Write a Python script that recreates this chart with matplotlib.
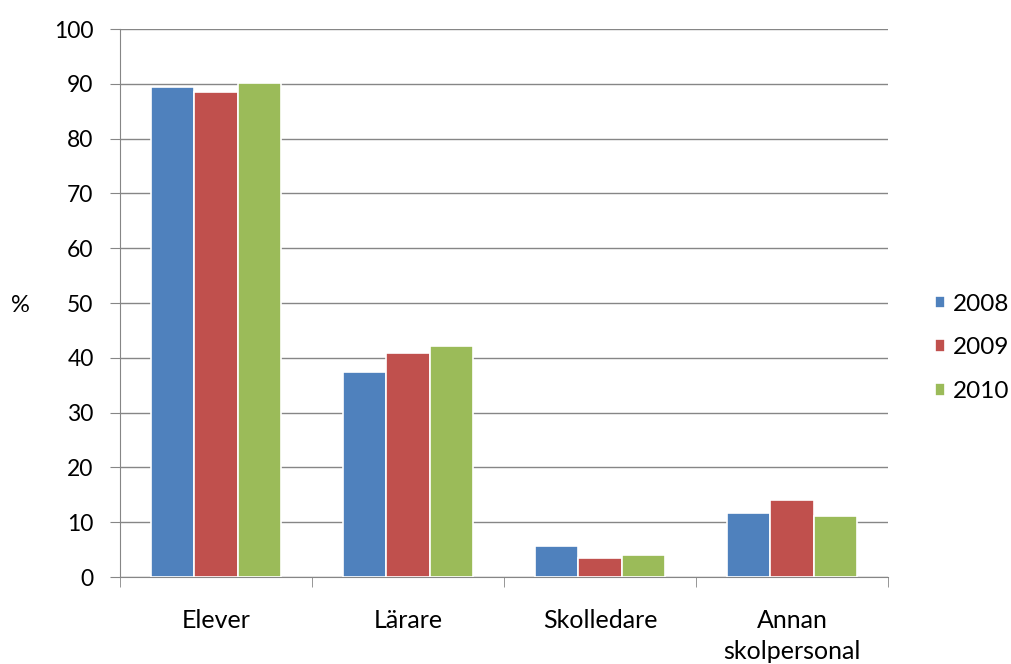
import matplotlib.pyplot as plt
import numpy as np

# data
categories = ['Elever', 'Lärare', 'Skolledare', 'Annan\nskolpersonal']
years = ['2008', '2009', '2010']
v2008 = [89.4, 37.4, 5.7, 11.7]
v2009 = [88.5, 40.9, 3.5, 14.1]
v2010 = [90.1, 42.2, 4.0, 11.1]
colors = ['#4F81BD', '#C0504D', '#9BBB59']

plt.rcParams['font.family'] = ['Lato', 'DejaVu Sans']

fig = plt.figure(figsize=(10.11, 6.64), dpi=100)
ax = fig.add_axes([120/1011, 87/664, 768/1011, 548/664])

x = np.arange(len(categories))
w = 0.225
for i, (vals, yr) in enumerate(zip([v2008, v2009, v2010], years)):
    ax.bar(x + (i - 1) * w, vals, w, color=colors[i], label=yr,
           edgecolor='white', linewidth=1.2, zorder=3)

ax.set_xlim(-0.5, len(categories) - 0.5)
ax.set_ylim(0, 100)
ax.set_yticks(range(0, 101, 10))
ax.set_xticks(x)
ax.set_xticklabels(categories, fontsize=18, linespacing=1.4)
ax.set_xticks(np.arange(-0.5, len(categories), 1), minor=True)
ax.tick_params(axis='x', which='major', length=0, pad=23)
ax.tick_params(axis='x', which='minor', length=7, color='#868686')
ax.tick_params(axis='y', length=7, color='#868686', labelsize=16.5, pad=12)
ax.yaxis.grid(True, color='#868686', linewidth=1, zorder=0)
for s in ['top', 'right']:
    ax.spines[s].set_visible(False)
for s in ['left', 'bottom']:
    ax.spines[s].set_color('#868686')

# y axis label sits far left, horizontal
fig.text(20/1011, 1 - 306/664, '%', fontsize=17, ha='center', va='center')

fig.legend(loc='center left', bbox_to_anchor=(0.925, 0.476), frameon=False,
           fontsize=17.5, handlelength=0.42, handleheight=0.42,
           labelspacing=0.93, handletextpad=0.29, borderpad=0, borderaxespad=0)

plt.savefig('out.png', dpi=100)
